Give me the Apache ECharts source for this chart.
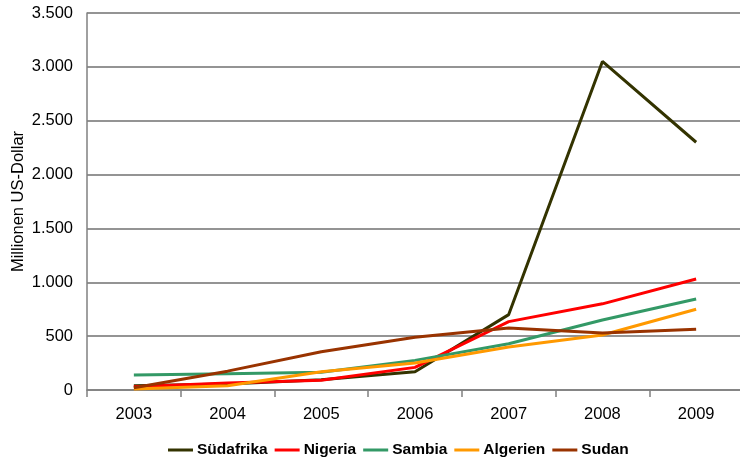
<!DOCTYPE html>
<html>
<head>
<meta charset="utf-8">
<script src="https://cdn.jsdelivr.net/npm/echarts@6/dist/echarts.min.js"></script>
<style>
  html, body { margin: 0; padding: 0; background: #fff; }
  #chart { width: 740px; height: 463px; }
</style>
</head>
<body>
<div id="chart"></div>
<script>
// Jahre und Werte in Millionen US-Dollar
const years = ['2003', '2004', '2005', '2006', '2007', '2008', '2009'];
const suedafrika = [40, 55, 95, 170, 700, 3050, 2300];
const nigeria = [30, 65, 90, 210, 635, 800, 1030];
const sambia = [140, 150, 165, 275, 430, 650, 845];
const algerien = [10, 40, 170, 250, 400, 510, 750];
const sudan = [20, 175, 355, 490, 575, 530, 565];

const seriesNames = ['Südafrika', 'Nigeria', 'Sambia', 'Algerien', 'Sudan'];
const seriesData = [suedafrika, nigeria, sambia, algerien, sudan];
const colors = ['#333300', '#ff0000', '#339966', '#ff9900', '#993300'];

const font = 'Liberation Sans, Arial, sans-serif';
const chart = echarts.init(document.getElementById('chart'), null, { renderer: 'canvas' });

chart.setOption({
  animation: false,
  color: colors,
  grid: { left: 87, top: 13, width: 656, height: 377, containLabel: false, outerBoundsMode: 'none' },
  legend: {
    data: seriesNames,
    left: 168,
    top: 442,
    padding: 0,
    itemWidth: 25,
    itemHeight: 3,
    itemGap: 7,
    icon: 'rect',
    textStyle: { fontFamily: font, fontSize: 15.5, fontWeight: 'bold', color: '#000', padding: [0, 0, 0, -1] }
  },
  xAxis: {
    type: 'category',
    data: years,
    boundaryGap: true,
    axisLine: { lineStyle: { color: '#808080', width: 1.5 } },
    axisTick: { show: true, length: 7, lineStyle: { color: '#808080', width: 1.5 } },
    axisLabel: { fontFamily: font, fontSize: 16.5, color: '#000', margin: 16 }
  },
  yAxis: {
    type: 'value',
    min: 0,
    max: 3500,
    interval: 500,
    name: 'Millionen US-Dollar',
    nameLocation: 'middle',
    nameGap: 60,
    nameMoveOverlap: false,
    nameTextStyle: { fontFamily: font, fontSize: 16.5, color: '#000' },
    axisLine: { show: true, lineStyle: { color: '#808080', width: 1.5 } },
    axisTick: { show: false },
    axisLabel: {
      fontFamily: font, fontSize: 16.5, color: '#000', margin: 14,
      formatter: v => v.toString().replace(/\B(?=(\d{3})+(?!\d))/g, '.')
    },
    splitLine: { lineStyle: { color: '#707070', width: 1.5 } }
  },
  series: seriesNames.map((n, i) => ({
    name: n,
    type: 'line',
    data: seriesData[i],
    symbol: 'none',
    lineStyle: { width: 3, color: colors[i] },
    z: 2 + i
  }))
});
</script>
</body>
</html>
